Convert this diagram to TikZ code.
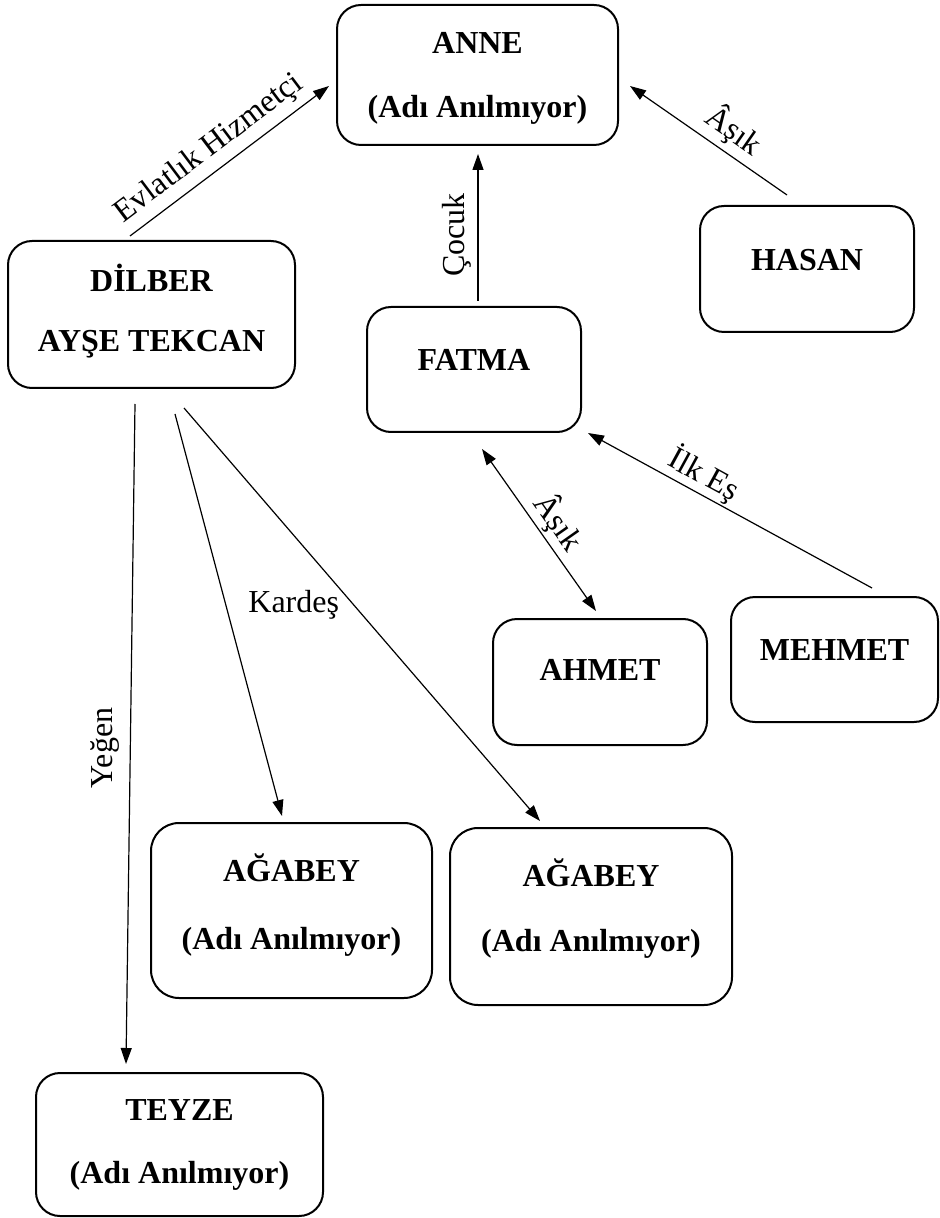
\documentclass[tikz,border=0pt]{standalone}
\usepackage{fontspec}
\setmainfont{Liberation Serif}
\usetikzlibrary{arrows.meta,calc}
\newcommand{\oneln}[2]{\raisebox{#1}[\height][\depth]{#2}}
\newcommand{\twoln}[4]{\raisebox{#1}[\height][\depth]{\begin{tabular}{@{}c@{}}#2\\[#4]#3\end{tabular}}}
\tikzset{
  pbox/.style={draw, line width=1pt, rounded corners=12pt, inner sep=0pt,
    font=\fontsize{16}{18}\selectfont\bfseries},
  conn/.style={line width=0.6pt, -{Triangle[length=8pt,width=5.5pt]}},
  dblconn/.style={line width=0.6pt, {Triangle[length=8pt,width=5.5pt]}-{Triangle[length=8pt,width=5.5pt]}},
  lbl/.style={font=\fontsize{16}{18}\selectfont, sloped, above},
  lblplain/.style={font=\fontsize{16}{18}\selectfont},
}
\begin{document}
\begin{tikzpicture}[x=0.5pt,y=-0.5pt]
\fill[white] (0,0) rectangle (939,1218);
\useasboundingbox (0,0) rectangle (939,1218);

% boxes
\node[pbox, minimum width=140.5pt, minimum height=70pt] (anne) at (477.5,75)
  {\twoln{-1.7pt}{ANNE}{(Adı Anılmıyor)}{14pt}};
\node[pbox, minimum width=143.5pt, minimum height=73.5pt] (dilber) at (151.5,314.5)
  {\twoln{0.5pt}{DİLBER}{AYŞE TEKCAN}{12pt}};
\node[pbox, minimum width=107pt, minimum height=62.5pt] (fatma) at (474,369.5)
  {\oneln{5pt}{FATMA}};
\node[pbox, minimum width=107pt, minimum height=63pt] (hasan) at (807,269)
  {\oneln{4.5pt}{HASAN}};
\node[pbox, minimum width=107pt, minimum height=63pt] (ahmet) at (600,682)
  {\oneln{6pt}{AHMET}};
\node[pbox, minimum width=103.5pt, minimum height=62.5pt] (mehmet) at (834.5,659.5)
  {\oneln{4.75pt}{MEHMET}};
\node[pbox, rounded corners=14pt, minimum width=140.5pt, minimum height=87.5pt] (agabey1) at (291.5,910.5)
  {\twoln{1.5pt}{AĞABEY}{(Adı Anılmıyor)}{16pt}};
\node[pbox, rounded corners=14pt, minimum width=141pt, minimum height=88.5pt] (agabey2) at (591,916.5)
  {\twoln{2.8pt}{AĞABEY}{(Adı Anılmıyor)}{14.5pt}};
\node[pbox, minimum width=143.5pt, minimum height=71.5pt] (teyze) at (179.5,1144.5)
  {\twoln{0pt}{TEYZE}{(Adı Anılmıyor)}{13.5pt}};

% connectors
\draw[conn] ($(dilber.north)+(-21.5,-4)$) --
  node[lbl, pos=0.464, inner sep=3.5pt] (l1) {Evlatlık Hizmetçi}
  ($(anne.west)+(-7,11)$);
\draw[conn] ($(fatma.north)+(4,-5)$) --
  node[lbl, pos=0.45, inner sep=2.9pt] (l2) {Çocuk}
  ($(anne.south)+(0.5,8)$);
\draw[conn] ($(hasan.north)+(-20,-10)$) --
  node[lbl, pos=0.42, inner sep=2.5pt] (l3) {Âşık}
  ($(anne.east)+(11,11)$);
\draw[conn] ($(mehmet.north)+(37.5,-8)$) --
  node[lbl, pos=0.624, inner sep=1pt] (l4) {İlk Eş}
  ($(fatma.south east)+(6,0)$);
\draw[dblconn] ($(fatma.south)+(8,16)$) --
  node[lbl, pos=0.526, inner sep=1.2pt] (l5) {Âşık}
  ($(ahmet.north)+(-4,-7)$);
\draw[conn] ($(dilber.south)+(-16.5,15)$) --
  node[lblplain, pos=0.521, rotate=90, anchor=south, inner sep=5.4pt] (l6) {Yeğen}
  ($(teyze.north)+(-53.5,-8)$);
\draw[conn] ($(dilber.south)+(23.5,25)$) --
  node[lblplain, pos=0.475, anchor=west, inner sep=0pt, xshift=11pt] (l7) {Kardeş}
  ($(agabey1.north)+(-9.5,-6)$);
\draw[conn] ($(dilber.south)+(32.5,19)$) --
  ($(agabey2.north)+(-51,-6)$);
\end{tikzpicture}
\end{document}
